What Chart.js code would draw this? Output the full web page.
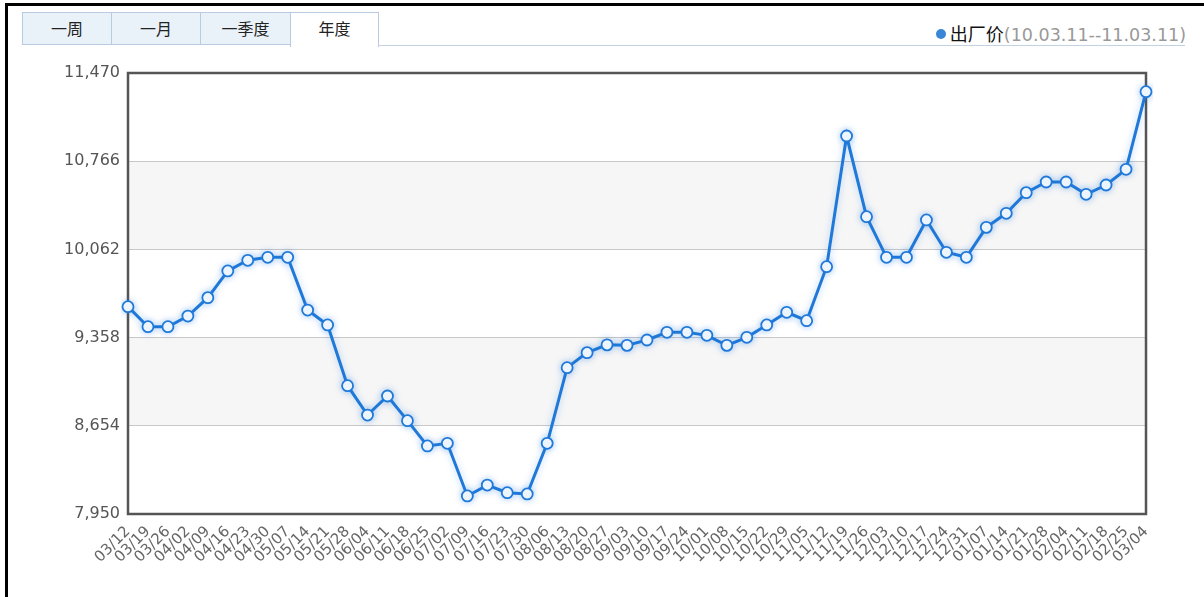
<!doctype html>
<html><head>
<meta charset="utf-8">
<title>出厂价</title>
<script src="https://cdn.jsdelivr.net/npm/chart.js"></script>
<style>
  html, body { margin:0; padding:0; background:#fff; }
  body { width:1204px; height:597px; position:relative; overflow:hidden;
         font-family:"DejaVu Sans", Verdana, sans-serif; }
  /* black frame, only top and left like the original */
  #frame { position:absolute; left:5px; top:3px; width:1199px; height:594px;
           border-top:3px solid #000; border-left:3px solid #000; box-sizing:border-box; }
  #tabs { position:absolute; left:22px; top:12px; height:33px; }
  .tab { position:absolute; top:0; height:33px; line-height:31px; text-align:center;
         font-family:"Noto Sans CJK SC", sans-serif; font-size:16px; color:#222;
         background:#e9f1f9; border:1px solid #b9cbe0; box-sizing:border-box; }
  .tab.on { background:#fff; border-bottom:none; height:35px; }
  #line { position:absolute; left:378px; top:45px; width:807px; height:0;
          border-top:1px solid #c3d2e2; }
  #legend { position:absolute; right:18px; top:20px; font-size:17.5px; color:#999;
            font-family:"DejaVu Sans", sans-serif; white-space:nowrap; }
  #legend .dot { display:inline-block; width:10px; height:10px; border-radius:50%;
                 background:#3a86d6; margin-right:4px; vertical-align:2px; }
  #legend .nm { color:#111; font-family:"Noto Sans CJK SC", sans-serif; font-size:18px; }
  #wrap { position:absolute; left:0; top:0; width:1204px; height:597px; }
</style>
</head>
<body>
<div id="frame"></div>
<div id="tabs">
  <div class="tab" style="left:0;width:90px">一周</div>
  <div class="tab" style="left:89px;width:90px">一月</div>
  <div class="tab" style="left:178px;width:91px">一季度</div>
  <div class="tab on" style="left:268px;width:89px">年度</div>
</div>
<div id="line"></div>
<div id="legend"><span class="dot"></span><span class="nm">出厂价</span>(10.03.11--11.03.11)</div>
<div id="wrap"><canvas id="myChart" width="1204" height="597"></canvas></div>

<script>
// fechas semanales 10.03 -> 11.03
const fechas = ['03/12','03/19','03/26','04/02','04/09','04/16','04/23','04/30','05/07','05/14',
  '05/21','05/28','06/04','06/11','06/18','06/25','07/02','07/09','07/16','07/23',
  '07/30','08/06','08/13','08/20','08/27','09/03','09/10','09/17','09/24','10/01',
  '10/08','10/15','10/22','10/29','11/05','11/12','11/19','11/26','12/03','12/10',
  '12/17','12/24','12/31','01/07','01/14','01/21','01/28','02/04','02/11','02/18',
  '02/25','03/04'];

const precios = [9605,9445,9445,9530,9677,9890,9975,9999,9999,9578,
  9459,8974,8740,8892,8695,8493,8514,8094,8181,8120,
  8110,8514,9118,9238,9300,9296,9339,9400,9400,9376,
  9296,9360,9459,9560,9493,9924,10967,10323,9999,9999,
  10297,10039,9999,10238,10350,10515,10600,10600,10502,10576,
  10701,11321];

const ticksY = [7950, 8654, 9358, 10062, 10766, 11470];

// bandas grises alternas + marco del area
const fondo = {
  id: 'fondo',
  beforeDraw(chart) {
    const c = chart.ctx, a = chart.chartArea, y = chart.scales.y;
    c.save();
    for (let i = 0; i < ticksY.length - 1; i++) {
      if (i % 2 === 1) {
        const y1 = y.getPixelForValue(ticksY[i + 1]);
        const y0 = y.getPixelForValue(ticksY[i]);
        c.fillStyle = '#f6f6f6';
        c.fillRect(a.left, y1, a.right - a.left, y0 - y1);
      }
    }
    c.restore();
  },
  beforeDatasetsDraw(chart) {
    const c = chart.ctx, a = chart.chartArea;
    c.save();
    c.strokeStyle = '#555';
    c.lineWidth = 2.5;
    c.strokeRect(a.left, a.top, a.right - a.left, a.bottom - a.top);
    c.restore();
  },
  beforeDatasetDraw(chart) {
    const c = chart.ctx;
    c.save();
    c.shadowColor = 'rgba(40,130,230,0.35)';
    c.shadowBlur = 7;
  },
  afterDatasetDraw(chart) {
    chart.ctx.restore();
  }
};

new Chart(document.getElementById('myChart'), {
  type: 'line',
  data: {
    labels: fechas,
    datasets: [{
      label: '出厂价',
      data: precios,
      borderColor: '#2079d8',
      borderWidth: 3,
      pointRadius: 5.5,
      pointBorderWidth: 1.8,
      pointBackgroundColor: '#fff',
      pointBorderColor: '#2079d8',
      tension: 0
    }]
  },
  options: {
    responsive: false,
    animation: false,
    layout: { padding: { top: 73, right: 58, left: 0, bottom: 0 } },
    plugins: { legend: { display: false }, tooltip: { enabled: false } },
    scales: {
      x: {
        offset: false,
        grid: { display: false },
        border: { display: false },
        ticks: {
          autoSkip: false, maxRotation: 45, minRotation: 45,
          color: '#666', padding: 1,
          font: { family: 'DejaVu Sans', size: 15 }
        },
        afterFit(s) { s.height = 83; }
      },
      y: {
        min: 7950, max: 11470,
        afterBuildTicks(s) { s.ticks = ticksY.map(v => ({ value: v })); },
        grid: { color: '#c8c8c8', lineWidth: 1, drawTicks: false },
        border: { display: false },
        ticks: {
          color: '#555', padding: 8,
          font: { family: 'DejaVu Sans', size: 16 },
          callback: v => Number(v).toLocaleString('en-US')
        },
        afterFit(s) { s.width = 128; }
      }
    }
  },
  plugins: [fondo]
});
</script>
</body></html>
